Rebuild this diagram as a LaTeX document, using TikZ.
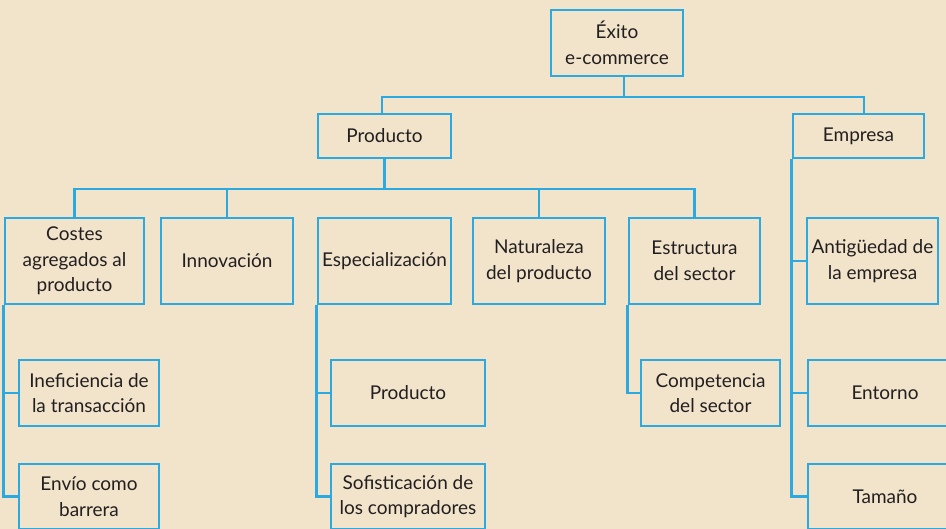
\documentclass[tikz,border=0pt]{standalone}
\usepackage{fontspec}
\setmainfont{Lato}
\definecolor{bg}{HTML}{F1E4CA}
\definecolor{ln}{HTML}{2AAAE1}
\definecolor{tx}{HTML}{231F20}
\begin{document}
\begin{tikzpicture}[x=1pt,y=-1pt,
  box/.style={draw=ln, line width=2.6pt, fill=bg, text=tx, align=center,
    inner sep=0pt, font=\fontsize{19}{25.5}\selectfont},
  conn/.style={draw=ln, line width=2.6pt, line join=miter}]
\useasboundingbox (0,0) rectangle (946,529);
\fill[bg] (0,0) rectangle (946,529);
\clip (0,0) rectangle (946,529);
% level 0/1
\node[box, minimum width=132pt, minimum height=66pt] (exito) at (617,43) {Éxito\\e-commerce};
\node[box, minimum width=133pt, minimum height=44pt] (prod) at (384.5,136) {Producto};
\node[box, minimum width=131pt, minimum height=44pt] (emp) at (858.5,136) {Empresa};
% level 2
\node[box, minimum width=139pt, minimum height=86pt] (costes) at (74.5,261) {Costes\\agregados al\\producto};
\node[box, minimum width=132pt, minimum height=86pt] (innov) at (227,261) {Innovación};
\node[box, minimum width=133pt, minimum height=86pt] (espec) at (384.5,261) {Especialización};
\node[box, minimum width=132pt, minimum height=86pt] (natur) at (539,261) {Naturaleza\\del producto};
\node[box, minimum width=131pt, minimum height=86pt] (estruc) at (694.5,261) {Estructura\\del sector};
\node[box, minimum width=131pt, minimum height=86pt] (antig) at (872.5,261) {Antigüedad de\\la empresa};
% level 3
\node[box, minimum width=140pt, minimum height=66pt] (inef) at (89,393) {Ineficiencia de\\la transacción};
\node[box, minimum width=140pt, minimum height=65pt] (envio) at (89,496.5) {Envío como\\barrera};
\node[box, minimum width=154pt, minimum height=66pt] (prod2) at (408,393) {Producto};
\node[box, minimum width=154pt, minimum height=65pt] (sofis) at (408,496.5) {Sofisticación de\\los compradores};
\node[box, minimum width=139pt, minimum height=66pt] (compet) at (710.5,393) {Competencia\\del sector};
\node[box, minimum width=154pt, minimum height=66pt] (entorno) at (885,393) {Entorno};
\node[box, minimum width=154pt, minimum height=65pt] (tamano) at (885,496.5) {Tamaño};
% connectors
\coordinate (jl) at (382,97);
\coordinate (jr) at (864,97);
\coordinate (b2) at (0,189);
\draw[conn] ([xshift=7pt]exito.south) |- (jl);
\draw[conn] ([xshift=-2.5pt]prod.north) -- (jl) -- (jr) -- ([xshift=5.5pt]emp.north);
\draw[conn] (prod.south) -- (prod.south |- b2);
\draw[conn] (costes.north) |- (estruc.north |- b2) -- (estruc.north);
\foreach \n in {innov,natur} \draw[conn] (\n.north) -- (\n.north |- b2);
\draw[conn] (costes.south west) |- (envio.west);
\draw[conn] (costes.south west |- inef.west) -- (inef.west);
\draw[conn] (espec.south west) |- (sofis.west);
\draw[conn] (espec.south west |- prod2.west) -- (prod2.west);
\draw[conn] (estruc.south west) |- (compet.west);
\draw[conn] (emp.south west) |- (tamano.west);
\draw[conn] (emp.south west |- antig.west) -- (antig.west);
\draw[conn] (emp.south west |- entorno.west) -- (entorno.west);
\end{tikzpicture}
\end{document}
